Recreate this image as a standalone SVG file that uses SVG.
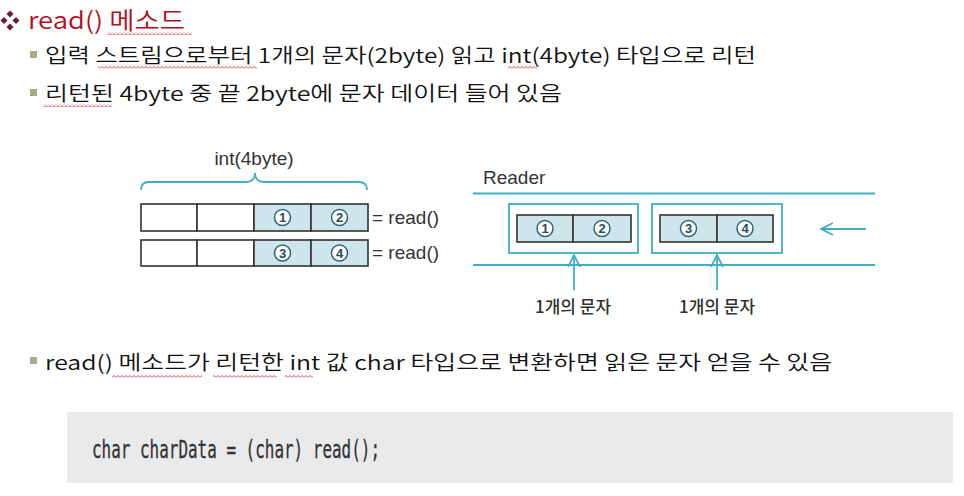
<svg xmlns="http://www.w3.org/2000/svg" width="964" height="496" viewBox="0 0 964 496">
<defs>
<pattern id="squig" width="4" height="3" patternUnits="userSpaceOnUse">
<path d="M0,2.5 L2,0.5 L4,2.5" fill="none" stroke="#e0282c" stroke-width="0.9"/>
</pattern>
<marker id="arr" viewBox="0 0 14 14" refX="13" refY="7" markerWidth="14" markerHeight="14" markerUnits="userSpaceOnUse" orient="auto">
<path d="M1,1 L13,7 L1,13" fill="none" stroke="#3eaec9" stroke-width="1.7"/>
</marker>
</defs>
<style>
.kr{font-family:"Noto Sans CJK KR","Noto Sans",sans-serif;font-size:20px;font-weight:350;fill:#111}
.title{font-family:"Noto Sans CJK KR","Noto Sans",sans-serif;font-size:24px;font-weight:350;fill:#b0101c}
.lab{font-family:"Liberation Sans",Arial,sans-serif;font-size:19px;fill:#333}
.cap{font-family:"Noto Sans CJK KR",sans-serif;font-size:17px;font-weight:500;fill:#333}
.cell{fill:#fff;stroke:#333;stroke-width:1.6}
.sh{fill:#cfe5ec;stroke:#333;stroke-width:1.6}
.teal{fill:none;stroke:#3eaec9;stroke-width:1.8}
.num{fill:#fff;stroke:#2f6677;stroke-width:1.5}
.nt{font-family:"Liberation Sans",Arial,sans-serif;font-size:13px;font-weight:bold;fill:#1f4d5c;text-anchor:middle}
.bul{fill:#aaa98a}
.sq{fill:url(#squig)}
.code{font-family:"DejaVu Sans Mono",monospace;font-size:25px;fill:#333;stroke:#333;stroke-width:0.3}
</style>
<rect width="964" height="496" fill="#fff"/>

<g id="title">
<g fill="#6b1a3e">
<path d="M10,10.5 L13.5,14 L10,17.5 L6.5,14Z"/>
<path d="M4,17 L7.5,20.5 L4,24 L0.5,20.5Z"/>
<path d="M16,17 L19.5,20.5 L16,24 L12.5,20.5Z"/>
<path d="M10,23.5 L13.5,27 L10,30.5 L6.5,27Z"/>
</g>
<text class="title" x="28" y="29" textLength="157" lengthAdjust="spacingAndGlyphs">read() 메소드</text>
<rect class="sq" x="107" y="32" width="85" height="3"/>
</g>

<g id="bullet1">
<rect class="bul" x="30" y="51" width="7" height="7"/>
<text class="kr" x="45" y="63" textLength="711" lengthAdjust="spacingAndGlyphs">입력 스트림으로부터 1개의 문자(2byte) 읽고 int(4byte) 타입으로 리턴</text>
<rect class="sq" x="98" y="66" width="159" height="3"/>
<rect class="sq" x="508" y="66" width="29" height="3"/>
</g>

<g id="bullet2">
<rect class="bul" x="30" y="89" width="7" height="7"/>
<text class="kr" x="45" y="101" textLength="517" lengthAdjust="spacingAndGlyphs">리턴된 4byte 중 끝 2byte에 문자 데이터 들어 있음</text>
<rect class="sq" x="43" y="104" width="69" height="3"/>
</g>

<g id="int-diagram">
<path class="teal" d="M141,190 Q141,182 149,182 L246,182 Q255,182 255,173 Q255,182 264,182 L359,182 Q367,182 367,190"/>
<text class="lab" x="254" y="165" text-anchor="middle">int(4byte)</text>
<rect class="cell" x="141" y="204" width="56" height="27"/>
<rect class="cell" x="197" y="204" width="57" height="27"/>
<rect class="sh" x="254" y="204" width="57" height="27"/>
<rect class="sh" x="311" y="204" width="57" height="27"/>
<rect class="cell" x="141" y="240" width="56" height="26"/>
<rect class="cell" x="197" y="240" width="57" height="26"/>
<rect class="sh" x="254" y="240" width="57" height="26"/>
<rect class="sh" x="311" y="240" width="57" height="26"/>
<circle class="num" cx="282.5" cy="217.5" r="8"/><text class="nt" x="282.5" y="222">1</text>
<circle class="num" cx="339.5" cy="217.5" r="8"/><text class="nt" x="339.5" y="222">2</text>
<circle class="num" cx="282.5" cy="253" r="8"/><text class="nt" x="282.5" y="257.5">3</text>
<circle class="num" cx="339.5" cy="253" r="8"/><text class="nt" x="339.5" y="257.5">4</text>
<text class="lab" x="372" y="224" font-size="20">= read()</text>
<text class="lab" x="372" y="259" font-size="20">= read()</text>
</g>

<g id="reader">
<text class="lab" x="483" y="184">Reader</text>
<line class="teal" x1="473" y1="193.5" x2="875" y2="193.5"/>
<line class="teal" x1="473" y1="265" x2="875" y2="265"/>
</g>

<g id="char1">
<rect class="teal" x="509" y="204" width="129" height="49"/>
<rect class="sh" x="517" y="215" width="56" height="27"/>
<rect class="sh" x="573" y="215" width="58" height="27"/>
<circle class="num" cx="545" cy="228.5" r="8"/><text class="nt" x="545" y="233">1</text>
<circle class="num" cx="602" cy="228.5" r="8"/><text class="nt" x="602" y="233">2</text>
<text class="cap" x="573" y="313" text-anchor="middle">1개의 문자</text>
</g>

<g id="char2">
<rect class="teal" x="652" y="204" width="130" height="49"/>
<rect class="sh" x="660" y="215" width="57" height="27"/>
<rect class="sh" x="717" y="215" width="56" height="27"/>
<circle class="num" cx="688.5" cy="228.5" r="8"/><text class="nt" x="688.5" y="233">3</text>
<circle class="num" cx="745" cy="228.5" r="8"/><text class="nt" x="745" y="233">4</text>
<text class="cap" x="717" y="313" text-anchor="middle">1개의 문자</text>
</g>

<g id="connectors">
<line class="teal" x1="866" y1="229" x2="821" y2="229" marker-end="url(#arr)"/>
<line class="teal" x1="574" y1="290" x2="574" y2="255" marker-end="url(#arr)"/>
<line class="teal" x1="717" y1="290" x2="717" y2="255" marker-end="url(#arr)"/>
</g>

<g id="bullet3">
<rect class="bul" x="30" y="357" width="7" height="7"/>
<text class="kr" x="45" y="370" textLength="787" lengthAdjust="spacingAndGlyphs">read() 메소드가 리턴한 int 값 char 타입으로 변환하면 읽은 문자 얻을 수 있음</text>
<rect class="sq" x="112" y="375" width="90" height="3"/>
<rect class="sq" x="213" y="375" width="64" height="3"/>
<rect class="sq" x="285" y="375" width="28" height="3"/>
</g>

<g id="code">
<rect x="67" y="412" width="886" height="71" fill="#e8eaeb"/>
<text class="code" x="92" y="458" textLength="288" lengthAdjust="spacingAndGlyphs">char charData = (char) read();</text>
</g>
</svg>
